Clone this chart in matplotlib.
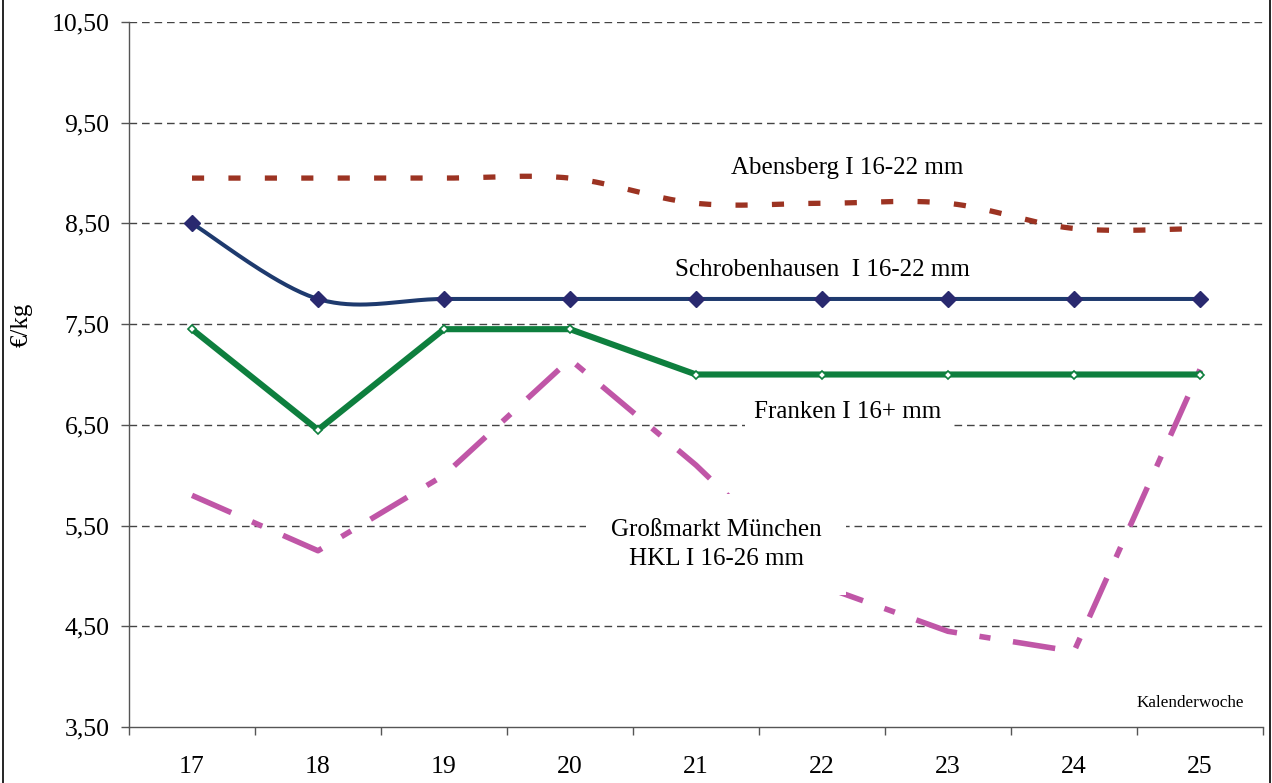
import numpy as np
import matplotlib
matplotlib.use("Agg")
import matplotlib.pyplot as plt
from matplotlib.lines import Line2D

weeks = [17, 18, 19, 20, 21, 22, 23, 24, 25]
abensberg = [8.95, 8.95, 8.95, 8.95, 8.70, 8.70, 8.70, 8.45, 8.45]
schrobenhausen = [8.50, 7.75, 7.75, 7.75, 7.75, 7.75, 7.75, 7.75, 7.75]
franken = [7.45, 6.45, 7.45, 7.45, 7.00, 7.00, 7.00, 7.00, 7.00]
grossmarkt = [5.80, 5.25, 6.00, 7.15, 6.10, 4.90, 4.45, 4.25, 7.05]
yticks = [3.5, 4.5, 5.5, 6.5, 7.5, 8.5, 9.5, 10.5]


def smooth(x, y, n=40):
    x = np.asarray(x, float)
    y = np.asarray(y, float)
    m = len(x)
    tx = np.zeros(m)
    ty = np.zeros(m)
    for i in range(m):
        a = max(i - 1, 0)
        b = min(i + 1, m - 1)
        tx[i] = (x[b] - x[a]) / 2.0
        ty[i] = (y[b] - y[a]) / 2.0
    xs, ys = [], []
    t = np.linspace(0, 1, n)
    h00 = 2 * t**3 - 3 * t**2 + 1
    h10 = t**3 - 2 * t**2 + t
    h01 = -2 * t**3 + 3 * t**2
    h11 = t**3 - t**2
    for i in range(m - 1):
        xs.append(h00 * x[i] + h10 * tx[i] + h01 * x[i + 1] + h11 * tx[i + 1])
        ys.append(h00 * y[i] + h10 * ty[i] + h01 * y[i + 1] + h11 * ty[i + 1])
    return np.concatenate(xs), np.concatenate(ys)


plt.rcParams['font.family'] = ['Liberation Serif', 'DejaVu Serif']

fig = plt.figure(figsize=(12.72, 7.83), dpi=100)
ax = fig.add_axes([129 / 1272, 56 / 783, (1263 - 129) / 1272, (727 - 22) / 783])

ax.set_xlim(16.5, 25.5)
ax.set_ylim(3.5, 10.5)

# grid
for v in yticks[1:]:
    ax.axhline(v, color='#444444', lw=1.0, dashes=(5.5, 3.5), zorder=1)

# Abensberg
xa, ya = smooth(weeks, abensberg)
ax.plot(xa, ya, color='#9C3322', lw=3.8, dashes=(2.3, 4.6), solid_capstyle='butt', zorder=3)

# Schrobenhausen
xs_, ys_ = smooth(weeks, schrobenhausen)
ax.plot(xs_, ys_, color='#1E3A6E', lw=2.9, zorder=4)
ax.plot(weeks, schrobenhausen, ls='none', marker='D', ms=7.8, color='#29296F', zorder=5)

# Franken
ax.plot(weeks, franken, color='#0E7F3E', lw=4.4, zorder=4)
ax.plot(weeks, franken, ls='none', marker='D', ms=3.6, mfc='white', mec='#0E7F3E', mew=1.2, zorder=6)

# Grossmarkt
ax.plot(weeks, grossmarkt, color='#C056A7', lw=4.0, dashes=(7.7, 4.1, 2.0, 4.1), zorder=3)

bb = dict(boxstyle='square,pad=0.3', fc='white', ec='none')
ax.text(22.2, 9.05, 'Abensberg I 16-22 mm', ha='center', va='center', fontsize=18, bbox=bb, zorder=7)
ax.text(22.0, 8.04, 'Schrobenhausen  I 16-22 mm', ha='center', va='center', fontsize=18, bbox=bb, zorder=7)
ax.text(22.2, 6.63, 'Franken I 16+ mm', ha='center', va='center', fontsize=18, bbox=dict(boxstyle='square,pad=0.35', fc='white', ec='none'), zorder=7)
ax.text(21.16, 5.31, 'Großmarkt München\nHKL I 16-26 mm', ha='center', va='center', fontsize=18,
        linespacing=1.38, bbox=dict(boxstyle='square,pad=1.0', fc='white', ec='none'), zorder=7)
ax.text(25.35, 3.74, 'Kalenderwoche', ha='right', va='center', fontsize=12.3, zorder=7)

ax.set_yticks(yticks)
ax.set_yticklabels([f'{v:.2f}'.replace('.', ',') for v in yticks], fontsize=18.5)
ax.set_xticks(weeks)
ax.set_xticklabels([str(w) for w in weeks], fontsize=18.5)
ax.set_xticks(np.arange(16.5, 25.6, 1.0), minor=True)
ax.tick_params(axis='x', which='major', length=0, pad=21)
ax.tick_params(axis='x', which='minor', length=6, width=1, color='#555555', direction='out')
ax.tick_params(axis='y', which='major', length=6, width=1, color='#555555', direction='out', pad=8)

for s in ['top', 'right']:
    ax.spines[s].set_visible(False)
ax.spines['left'].set_color('#555555')
ax.spines['bottom'].set_color('#555555')
ax.spines['left'].set_linewidth(1.0)
ax.spines['bottom'].set_linewidth(1.0)

fig.text(22 / 1272, 1 - 325 / 783, '€/kg', rotation=90, ha='center', va='center', fontsize=18)

# figure frame (left/right)
fig.add_artist(Line2D([3.5 / 1272, 3.5 / 1272], [0, 1], transform=fig.transFigure, color='black', lw=1.2))
fig.add_artist(Line2D([1269.5 / 1272, 1269.5 / 1272], [0, 1], transform=fig.transFigure, color='black', lw=1.2))

fig.savefig('out.png', dpi=100)
